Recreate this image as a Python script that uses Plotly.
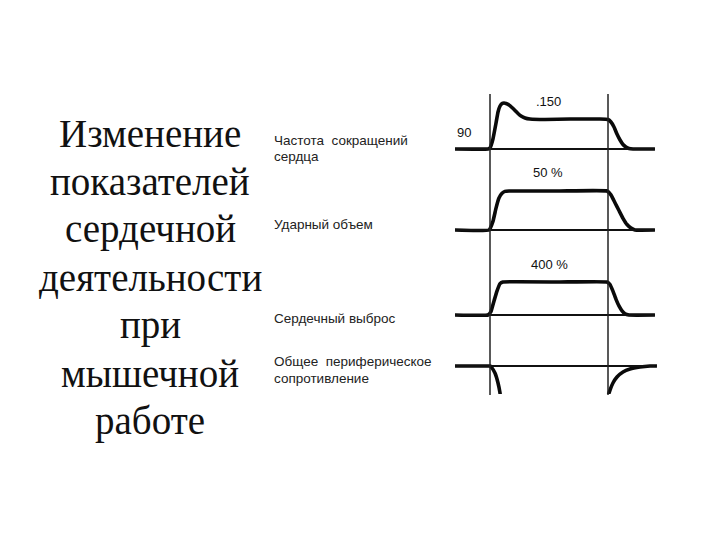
import plotly.graph_objects as go

W, H = 720, 540
PAGE_OFFSET = 8  # the html body margin shifts the figure by 8 px

# ---------------- data (time in min relative to the start of work) ----------------
WORK_START, WORK_END = 0.0, 10.0

hr_t = [-2.97, -0.17, 0.0, 0.25, 0.51, 0.68, 0.85, 1.02, 1.19, 1.36, 1.61, 1.86, 2.12, 2.37,
        2.63, 2.97, 3.39, 4.66, 6.78, 9.32, 10.0, 10.25, 10.51, 10.76, 11.02, 11.27, 11.52,
        11.78, 12.12, 13.98]
hr_v = [90, 90, 92, 110, 142, 164, 176, 181, 182, 181, 178, 173, 167, 161,
        156, 152, 150, 149, 150, 150, 149, 144, 134, 120, 108, 99, 94, 91, 90, 90]
HR_BASE, HR_WORK = 90, 150

sv_t = [-2.97, -0.08, 0.25, 0.51, 0.76, 1.02, 1.27, 1.61, 5.93, 9.92, 10.25, 10.59, 10.93,
        11.27, 11.61, 11.95, 12.29, 13.98]
sv_v = [0, 0, 11, 28, 41, 47, 49.5, 50, 50, 50, 45, 35, 25, 15, 7, 2.5, 0, 0]
SV_BASE, SV_WORK = 0, 50

co_t = [-2.97, -0.17, 0.08, 0.34, 0.59, 0.85, 1.10, 5.93, 9.92, 10.17, 10.42, 10.68, 10.93,
        11.19, 11.44, 11.78, 13.98]
co_v = [0, 0, 40, 170, 290, 380, 400, 400, 400, 370, 290, 190, 110, 50, 15, 0, 0]
CO_BASE, CO_WORK = 0, 400

tpr_t = [-2.97, -0.17, 0.0, 0.17, 0.42, 0.68, 0.85, 0.93, 5.0, 10.0, 10.04, 10.17, 10.42,
         10.76, 11.27, 11.86, 12.71, 13.56, 14.15]
tpr_v = [0, 0, 0, -4, -14, -34, -54, -68, -80, -80, -58, -48, -34,
         -22, -12, -6, -2, 0, 0]
TPR_BASE = 0

row_labels = [["Частота  сокращений", "сердца"], ["Ударный объем"],
              ["Сердечный выброс"], ["Общее  периферическое", "сопротивление"]]
value_labels = ["90", ".150", "50 %", "400 %"]
title_lines = ["Изменение", "показателей", "сердечной", "деятельности",
               "при", "мышечной", "работе"]

# ---------------- layout helpers ----------------
def py(p):
    return 1 - (p - PAGE_OFFSET) / H

def px(p):
    return (p - PAGE_OFFSET) / W

def scale_range(p_lo, p_hi, pa, va, pb, vb):
    k = (vb - va) / (pb - pa)
    return [va + (p_lo - pa) * k, va + (p_hi - pa) * k]

X_DOM = (455, 660)
x_range = scale_range(X_DOM[0], X_DOM[1], 490, WORK_START, 608, WORK_END)

rows = [
    dict(t=hr_t, v=hr_v, base=HR_BASE, dom=(92, 162), ref=(149, HR_BASE, 119, HR_WORK)),
    dict(t=sv_t, v=sv_v, base=SV_BASE, dom=(162, 240), ref=(230, SV_BASE, 191, SV_WORK)),
    dict(t=co_t, v=co_v, base=CO_BASE, dom=(240, 326), ref=(315, CO_BASE, 282, CO_WORK)),
    dict(t=tpr_t, v=tpr_v, base=TPR_BASE, dom=(326, 394), ref=(366, TPR_BASE, 376, -20)),
]

fig = go.Figure()
layout = dict(
    width=W, height=H, margin=dict(l=0, r=0, t=0, b=0),
    paper_bgcolor="white", plot_bgcolor="rgba(0,0,0,0)", showlegend=False,
    xaxis=dict(domain=[px(X_DOM[0]), px(X_DOM[1])], range=x_range, visible=False, fixedrange=True),
)
shapes = []
for i, r in enumerate(rows):
    ya = "y" if i == 0 else f"y{i + 1}"
    key = "yaxis" if i == 0 else f"yaxis{i + 1}"
    pa, va, pb, vb = r["ref"]
    layout[key] = dict(domain=[py(r["dom"][1]), py(r["dom"][0])],
                       range=scale_range(r["dom"][1], r["dom"][0], pa, va, pb, vb),
                       anchor="x", visible=False, fixedrange=True)
    shapes.append(dict(type="line", xref="x domain", x0=0, x1=0.975, yref=ya,
                       y0=r["base"], y1=r["base"], line=dict(color="#111", width=2)))
    fig.add_trace(go.Scatter(x=r["t"], y=r["v"], xaxis="x", yaxis=ya, mode="lines",
                             line=dict(color="#0a0a0a", width=3.6, shape="spline", smoothing=0.3),
                             hoverinfo="skip"))

for xv in (WORK_START, WORK_END):
    shapes.append(dict(type="line", xref="x", x0=xv, x1=xv, yref="paper",
                       y0=py(395), y1=py(94), line=dict(color="#222", width=1.5)))

ann = []
TITLE_SIZE = 39
for k, line in enumerate(title_lines):
    base_y = 145 + 48 * k
    ann.append(dict(text=line, x=px(150), y=py(base_y - 12), xref="paper", yref="paper",
                    xanchor="center", yanchor="middle", showarrow=False,
                    font=dict(family="Liberation Serif", size=TITLE_SIZE, color="#111")))

lab_pos = [[141, 156], [224], [318], [361, 378]]
for lines, ys in zip(row_labels, lab_pos):
    for txt, yy in zip(lines, ys):
        ann.append(dict(text=txt, x=px(272), y=py(yy), xref="paper", yref="paper",
                        xanchor="left", yanchor="middle", showarrow=False,
                        font=dict(family="Liberation Sans", size=13.5, color="#222")))

val_pos = [(464, 132), (548, 101), (548, 172), (549, 265)]
for txt, (xx, yy) in zip(value_labels, val_pos):
    ann.append(dict(text=txt, x=px(xx), y=py(yy), xref="paper", yref="paper",
                    xanchor="center", yanchor="middle", showarrow=False,
                    font=dict(family="Liberation Sans", size=13, color="#111")))

layout["shapes"] = shapes
layout["annotations"] = ann
fig.update_layout(**layout)
fig.write_html("out.html")
